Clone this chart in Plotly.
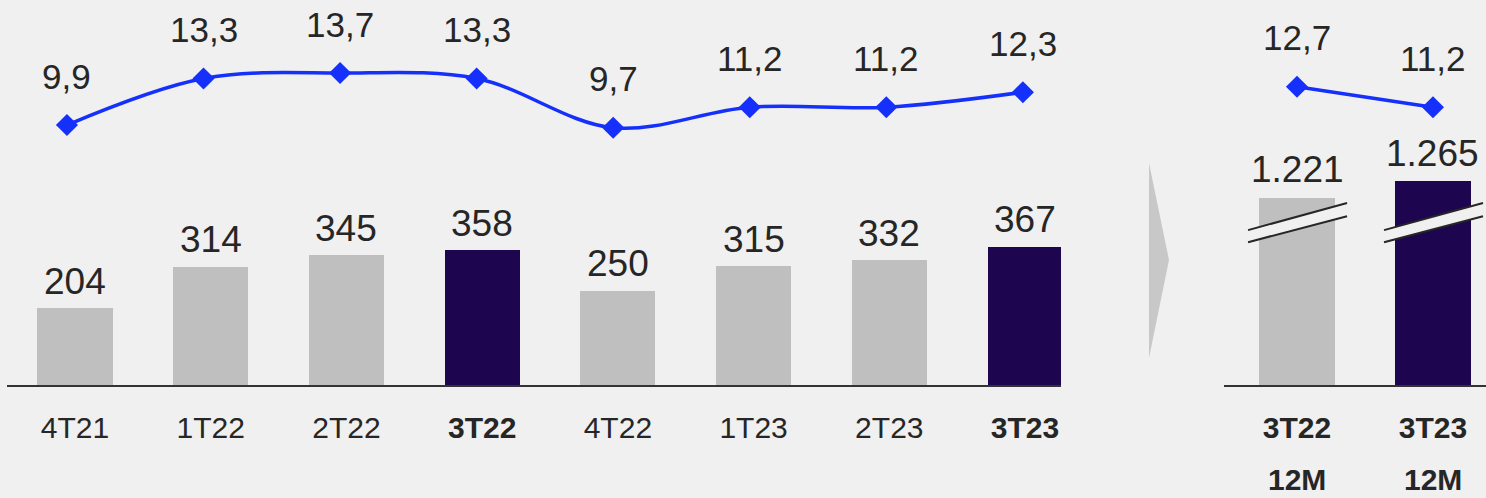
import plotly.graph_objects as go

# ---------------- data ----------------
quarters = ["4T21", "1T22", "2T22", "3T22", "4T22", "1T23", "2T23", "3T23"]
quarter_values = [204, 314, 345, 358, 250, 315, 332, 367]
quarter_ratio = [9.9, 13.3, 13.7, 13.3, 9.7, 11.2, 11.2, 12.3]
quarter_highlight = [False, False, False, True, False, False, False, True]

periods = ["3T22", "3T23"]
period_sub = ["12M", "12M"]
period_values = [1221, 1265]
period_ratio = [12.7, 11.2]
period_highlight = [False, True]

# ---------------- style ----------------
BG = "#F0F0F0"
GREY = "#BFBFBF"
NAVY = "#1E0550"
BLUE = "#1530FA"
TXT = "#262626"
FONT = "Arial, Liberation Sans, sans-serif"

W, H = 1486, 498
base_px = 385
ydom = [(H - base_px) / H, 1.0]
left_dom = [7 / W, 1061 / W]
right_dom = [1224 / W, 1.0]

bar_range = [0, 1023]
right_bar_range = [723.5, 1746.5]
line_range = [-9.1, 19.04]


def fmt_int(v):
    return f"{v:,.0f}".replace(",", ".")


def fmt_dec(v):
    return f"{v:.1f}".replace(".", ",")


def tick(lbl, bold):
    return f"<b>{lbl}</b>" if bold else lbl


fig = go.Figure()

# left bars
fig.add_trace(go.Bar(
    x=list(range(len(quarters))), y=quarter_values,
    marker=dict(color=[NAVY if h else GREY for h in quarter_highlight], line=dict(width=0)),
    width=0.553, xaxis="x", yaxis="y", showlegend=False, hoverinfo="skip"))

# left line
fig.add_trace(go.Scatter(
    x=list(range(len(quarters))), y=quarter_ratio, mode="lines+markers",
    line=dict(color=BLUE, width=3.5, shape="spline", smoothing=1),
    marker=dict(symbol="diamond", size=17, color=BLUE),
    xaxis="x3", yaxis="y3", showlegend=False, hoverinfo="skip"))

# right bars
fig.add_trace(go.Bar(
    x=list(range(len(periods))), y=period_values,
    marker=dict(color=[NAVY if h else GREY for h in period_highlight], line=dict(width=0)),
    width=0.552, xaxis="x2", yaxis="y2", showlegend=False, hoverinfo="skip"))

# right line
fig.add_trace(go.Scatter(
    x=list(range(len(periods))), y=period_ratio, mode="lines+markers",
    line=dict(color=BLUE, width=3.5),
    marker=dict(symbol="diamond", size=17, color=BLUE),
    xaxis="x2", yaxis="y4", showlegend=False, hoverinfo="skip"))

annotations = []
for i, v in enumerate(quarter_values):
    annotations.append(dict(x=i, y=v, xref="x", yref="y", text=fmt_int(v), showarrow=False,
                            yanchor="middle", yshift=27, font=dict(size=37, color=TXT, family=FONT)))
for i, v in enumerate(quarter_ratio):
    annotations.append(dict(x=i, y=v, xref="x3", yref="y3", text=fmt_dec(v), showarrow=False,
                            yanchor="middle", yshift=49, font=dict(size=35, color=TXT, family=FONT)))
for i, v in enumerate(period_values):
    annotations.append(dict(x=i, y=v, xref="x2", yref="y2", text=fmt_int(v), showarrow=False,
                            yanchor="middle", yshift=28, font=dict(size=37, color=TXT, family=FONT)))
for i, v in enumerate(period_ratio):
    annotations.append(dict(x=i, y=v, xref="x2", yref="y4", text=fmt_dec(v), showarrow=False,
                            yanchor="middle", yshift=49, font=dict(size=35, color=TXT, family=FONT)))
# second line of the right-hand category labels
for i, s in enumerate(period_sub):
    annotations.append(dict(x=i, y=0, xref="x2", yref="paper", text=f"<b>{s}</b>",
                            showarrow=False, yanchor="bottom", yshift=0,
                            font=dict(size=30, color=TXT, family=FONT)))

shapes = []
# axis break marks on right bars
for i in range(len(periods)):
    x0, x1 = i - 0.36, i + 0.368
    shapes.append(dict(type="path", xref="x2", yref="y2",
                       path=f"M {x0},1103 L {x1},1172 L {x1},1207 L {x0},1135 Z",
                       fillcolor=BG, line=dict(width=0), layer="above"))
    shapes.append(dict(type="line", xref="x2", yref="y2", x0=x0, y0=1135, x1=x1, y1=1207,
                       line=dict(color=TXT, width=2), layer="above"))
    shapes.append(dict(type="line", xref="x2", yref="y2", x0=x0, y0=1103, x1=x1, y1=1172,
                       line=dict(color=TXT, width=2), layer="above"))

# grey arrow between panels
ax0, ax1 = 1149 / W, 1169 / W
ay_top, ay_bot, ay_tip = (H - 163) / H, (H - 358) / H, (H - 260) / H
shapes.append(dict(type="path", xref="paper", yref="paper",
                   path=f"M {ax0},{ay_top} L {ax1},{ay_tip} L {ax0},{ay_bot} Z",
                   fillcolor="#C8C8C8", line=dict(width=0)))

tickfont = dict(size=30, color=TXT, family=FONT)

fig.update_layout(
    width=W, height=H,
    margin=dict(l=0, r=0, t=0, b=0),
    paper_bgcolor=BG, plot_bgcolor=BG,
    bargap=0,
    annotations=annotations, shapes=shapes,
    xaxis=dict(domain=left_dom, anchor="y", range=[-0.501, 7.265],
               tickmode="array", tickvals=list(range(len(quarters))),
               ticktext=[tick(q, h) for q, h in zip(quarters, quarter_highlight)],
               tickfont=tickfont, ticks="", ticklabelstandoff=15,
               showline=True, linecolor="#333333", linewidth=2,
               showgrid=False, zeroline=False, fixedrange=True),
    yaxis=dict(domain=ydom, anchor="x", range=bar_range, visible=False, fixedrange=True),
    xaxis3=dict(overlaying="x", anchor="y3", range=[-0.439, 7.279], visible=False),
    yaxis3=dict(overlaying="y", anchor="x3", range=line_range, visible=False),
    xaxis2=dict(domain=right_dom, anchor="y2", range=[-0.537, 1.390],
                tickmode="array", tickvals=list(range(len(periods))),
                ticktext=[f"<b>{p}</b>" for p in periods],
                tickfont=tickfont, ticks="", ticklabelstandoff=15,
                showline=True, linecolor="#333333", linewidth=2,
                showgrid=False, zeroline=False),
    yaxis2=dict(domain=ydom, anchor="x2", range=right_bar_range, visible=False),
    yaxis4=dict(overlaying="y2", anchor="x2", range=line_range, visible=False),
)

fig.write_html("out.html", config={"displayModeBar": False},
               post_script="document.body.style.margin='0';document.body.style.padding='0';")
